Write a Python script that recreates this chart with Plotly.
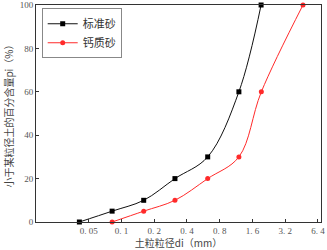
import plotly.graph_objects as go

# Data
std_d = [0.041, 0.082, 0.16, 0.31, 0.62, 1.2, 1.92]
std_p = [0, 5, 10, 20, 30, 60, 100]
cal_d = [0.082, 0.16, 0.31, 0.62, 1.2, 1.93, 4.66]
cal_p = [0, 5, 10, 20, 30, 60, 100]
x_ticks = [0.05, 0.1, 0.2, 0.4, 0.8, 1.6, 3.2, 6.4]
x_ticktext = ["0. 05", "0. 1", "0. 2", "0. 4", "0. 8", "1. 6", "3. 2", "6. 4"]
y_ticks = [0, 20, 40, 60, 80, 100]
series_names = ["标准砂", "钙质砂"]

fig = go.Figure()
fig.add_trace(go.Scatter(
    x=std_d, y=std_p, name=series_names[0], mode="lines+markers",
    line=dict(color="#111111", width=1, shape="spline"),
    marker=dict(symbol="square", size=5, color="#000000"),
    cliponaxis=False,
))
fig.add_trace(go.Scatter(
    x=cal_d, y=cal_p, name=series_names[1], mode="lines+markers",
    line=dict(color="#ff2a2a", width=1, shape="spline"),
    marker=dict(symbol="circle", size=5, color="#ff2a2a"),
    cliponaxis=False,
))

serif = "Liberation Serif, Times New Roman, serif"
cjk = "Noto Sans CJK SC"

fig.update_layout(
    width=327, height=250,
    margin=dict(l=36, r=6, t=5, b=28, autoexpand=False),
    paper_bgcolor="white", plot_bgcolor="white",
    showlegend=True,
    legend=dict(
        x=0.02, y=0.985, xanchor="left", yanchor="top",
        bgcolor="white", bordercolor="#888888", borderwidth=1,
        font=dict(family=cjk, size=11, color="#333333"),
        itemwidth=30, tracegroupgap=0,
    ),
    xaxis=dict(
        type="log",
        range=[-1.786, 0.834],
        tickvals=x_ticks, ticktext=x_ticktext,
        ticks="inside", ticklen=3, tickcolor="#333333",
        showline=True, linecolor="#333333", linewidth=1, mirror=True,
        showgrid=False, zeroline=False, automargin=False,
        tickfont=dict(family=serif, size=9, color="#555555"),
        title=dict(text="土粒粒径di（mm）", font=dict(family=cjk, size=10, color="#444444"), standoff=2),
    ),
    yaxis=dict(
        range=[0, 100],
        tickvals=y_ticks,
        ticks="inside", ticklen=3, tickcolor="#333333",
        showline=True, linecolor="#333333", linewidth=1, mirror=True,
        showgrid=False, zeroline=False, automargin=False,
        tickfont=dict(family=serif, size=9, color="#555555"),
        title=dict(text="小于某粒径土的百分含量pi（%）", font=dict(family=cjk, size=10, color="#444444"), standoff=4),
    ),
)

fig.write_html(
    "out.html",
    config={"displayModeBar": False},
    post_script="document.body.style.margin='0';document.body.style.padding='0';",
)
